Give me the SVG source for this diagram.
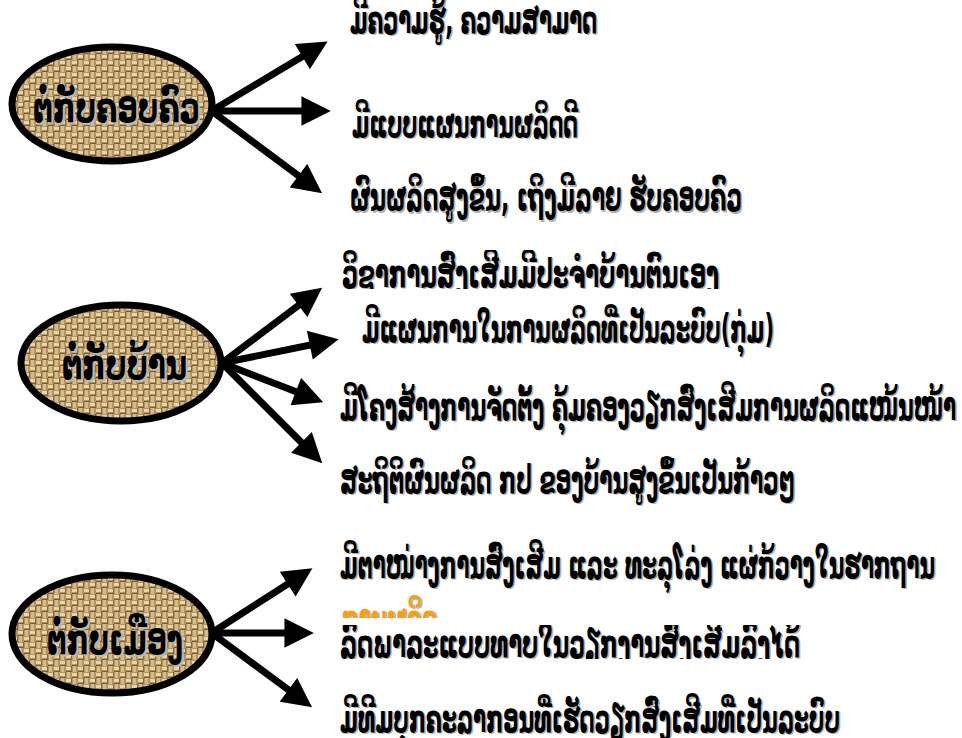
<svg xmlns="http://www.w3.org/2000/svg" width="962" height="738" viewBox="0 0 962 738">
<style>
.t{font-family:"DejaVu Sans",sans-serif;font-size:33px;font-weight:bold;fill:#000}
.sh{font-family:"DejaVu Sans",sans-serif;font-size:33px;font-weight:bold;fill:#b0b0b0}
.lbl{font-family:"DejaVu Sans",sans-serif;font-size:35px;font-weight:bold;fill:#000}
.lsh{font-family:"DejaVu Sans",sans-serif;font-size:35px;font-weight:bold;fill:#b8b8b8}
.node{fill:url(#burlap);stroke:#000;stroke-width:7}
.arr{stroke:#000;stroke-width:7;fill:none;marker-end:url(#ah)}
.or{font-family:"DejaVu Sans",sans-serif;font-size:33px;font-weight:bold;fill:#f5a01a}
</style>
<defs>
<pattern id="burlap" width="12" height="12" patternUnits="userSpaceOnUse">
<rect width="12" height="12" fill="#b39462"/>
<rect x="0" y="1" width="6" height="3" fill="#e8d6a8"/>
<rect x="6" y="7" width="6" height="3" fill="#e8d6a8"/>
<rect x="7" y="0" width="3" height="6" fill="#d3bb8a"/>
<rect x="1" y="6" width="3" height="6" fill="#d3bb8a"/>
<rect x="0" y="5" width="6" height="1" fill="#735a33"/>
<rect x="6" y="11" width="6" height="1" fill="#735a33"/>
<rect x="5" y="0" width="1" height="6" fill="#84683c"/>
<rect x="11" y="6" width="1" height="6" fill="#84683c"/>
</pattern>
<marker id="ah" viewBox="0 0 10 10" refX="7" refY="5" markerWidth="4.4" markerHeight="4.2" orient="auto" markerUnits="strokeWidth">
<path d="M0,0 L10,5 L0,10 z" fill="#000"/>
</marker>
<clipPath id="c1"><rect x="330" y="250" width="632" height="39"/></clipPath>
<clipPath id="c2"><rect x="330" y="590" width="632" height="28"/></clipPath>
<clipPath id="c3"><rect x="330" y="625" width="632" height="34"/></clipPath>
</defs>
<g id="connectors">
<line class="arr" x1="213" y1="110" x2="320" y2="46"/>
<line class="arr" x1="213" y1="111" x2="322" y2="111"/>
<line class="arr" x1="213" y1="112" x2="315" y2="188"/>
<line class="arr" x1="222" y1="363" x2="315" y2="293"/>
<line class="arr" x1="222" y1="363" x2="330" y2="341"/>
<line class="arr" x1="222" y1="363" x2="315" y2="399"/>
<line class="arr" x1="222" y1="363" x2="316" y2="457"/>
<line class="arr" x1="213" y1="632" x2="305" y2="573"/>
<line class="arr" x1="213" y1="633" x2="305" y2="633"/>
<line class="arr" x1="213" y1="634" x2="305" y2="702"/>
</g>
<g id="node-family">
<ellipse class="node" cx="112" cy="104" rx="100" ry="57"/>
<text class="lsh" x="35" y="124" transform="matrix(1,0,0,1.2,0,-24.8)" textLength="167" lengthAdjust="spacingAndGlyphs">ຕໍ່ກັບຄອບຄົວ</text>
<text class="lbl" x="33" y="122" transform="matrix(1,0,0,1.2,0,-24.4)" textLength="167" lengthAdjust="spacingAndGlyphs">ຕໍ່ກັບຄອບຄົວ</text>
</g>
<g id="node-village">
<ellipse class="node" cx="121" cy="363" rx="100" ry="58"/>
<text class="lsh" x="64" y="381" transform="matrix(1,0,0,1.2,0,-76.2)" textLength="125" lengthAdjust="spacingAndGlyphs">ຕໍ່ກັບບ້ານ</text>
<text class="lbl" x="62" y="379" transform="matrix(1,0,0,1.2,0,-75.8)" textLength="125" lengthAdjust="spacingAndGlyphs">ຕໍ່ກັບບ້ານ</text>
</g>
<g id="node-district">
<ellipse class="node" cx="112" cy="634" rx="100" ry="59"/>
<text class="lsh" x="49" y="656" transform="matrix(1,0,0,1.2,0,-131.2)" textLength="136" lengthAdjust="spacingAndGlyphs">ຕໍ່ກັບເມືອງ</text>
<text class="lbl" x="47" y="654" transform="matrix(1,0,0,1.2,0,-130.8)" textLength="136" lengthAdjust="spacingAndGlyphs">ຕໍ່ກັບເມືອງ</text>
</g>
<g id="items-family">
<text class="sh" x="351.5" y="34.5" transform="matrix(1,0,0,1.2,0,-6.9)" textLength="247" lengthAdjust="spacingAndGlyphs">ມີຄວາມຮູ້, ຄວາມສາມາດ</text>
<text class="t" x="350" y="33" transform="matrix(1,0,0,1.2,0,-6.6)" textLength="247" lengthAdjust="spacingAndGlyphs">ມີຄວາມຮູ້, ຄວາມສາມາດ</text>
<text class="sh" x="353.5" y="138.5" transform="matrix(1,0,0,1.2,0,-27.7)" textLength="226" lengthAdjust="spacingAndGlyphs">ມີແບບແຜນການຜລິດດີ</text>
<text class="t" x="352" y="137" transform="matrix(1,0,0,1.2,0,-27.4)" textLength="226" lengthAdjust="spacingAndGlyphs">ມີແບບແຜນການຜລິດດີ</text>
<text class="sh" x="351.5" y="211.5" transform="matrix(1,0,0,1.2,0,-42.3)" textLength="392" lengthAdjust="spacingAndGlyphs">ຜົນຜລິດສູງຂຶ້ນ, ເຖິງມີລາຍ ຮັບຄອບຄົວ</text>
<text class="t" x="350" y="210" transform="matrix(1,0,0,1.2,0,-42)" textLength="392" lengthAdjust="spacingAndGlyphs">ຜົນຜລິດສູງຂຶ້ນ, ເຖິງມີລາຍ ຮັບຄອບຄົວ</text>
</g>
<g id="items-village">
<g clip-path="url(#c1)">
<text class="sh" x="343.5" y="288.5" transform="matrix(1,0,0,1.2,0,-57.7)" textLength="377" lengthAdjust="spacingAndGlyphs">ວິຊາການສົ່ງເສີມມີປະຈຳບ້ານຕົນເອງ</text>
<text class="t" x="342" y="287" transform="matrix(1,0,0,1.2,0,-57.4)" textLength="377" lengthAdjust="spacingAndGlyphs">ວິຊາການສົ່ງເສີມມີປະຈຳບ້ານຕົນເອງ</text>
</g>
<text class="sh" x="363.5" y="343.5" transform="matrix(1,0,0,1.2,0,-68.7)" textLength="412" lengthAdjust="spacingAndGlyphs">ມີແຜນການໃນການຜລິດທີ່ເປັນລະບົບ(ກຸ່ມ)</text>
<text class="t" x="362" y="342" transform="matrix(1,0,0,1.2,0,-68.4)" textLength="412" lengthAdjust="spacingAndGlyphs">ມີແຜນການໃນການຜລິດທີ່ເປັນລະບົບ(ກຸ່ມ)</text>
<text class="sh" x="341.5" y="421.5" transform="matrix(1,0,0,1.2,0,-84.3)" textLength="616" lengthAdjust="spacingAndGlyphs">ມີໂຄງສ້າງການຈັດຕັ້ງ ຄຸ້ມຄອງວຽກສົ່ງເສີມການຜລິດແໜ້ນໜ້າ</text>
<text class="t" x="340" y="420" transform="matrix(1,0,0,1.2,0,-84)" textLength="616" lengthAdjust="spacingAndGlyphs">ມີໂຄງສ້າງການຈັດຕັ້ງ ຄຸ້ມຄອງວຽກສົ່ງເສີມການຜລິດແໜ້ນໜ້າ</text>
<text class="sh" x="341.5" y="494.5" transform="matrix(1,0,0,1.2,0,-98.9)" textLength="455" lengthAdjust="spacingAndGlyphs">ສະຖິຕິຜົນຜລິດ ກປ ຂອງບ້ານສູງຂຶ້ນເປັນກ້າວໆ</text>
<text class="t" x="340" y="493" transform="matrix(1,0,0,1.2,0,-98.6)" textLength="455" lengthAdjust="spacingAndGlyphs">ສະຖິຕິຜົນຜລິດ ກປ ຂອງບ້ານສູງຂຶ້ນເປັນກ້າວໆ</text>
</g>
<g id="items-district">
<text class="sh" x="341.5" y="579.5" transform="matrix(1,0,0,1.2,0,-115.9)" textLength="595" lengthAdjust="spacingAndGlyphs">ມີຕາໜ່າງການສົ່ງເສີມ ແລະ ທະລຸໂລ່ງ ແຜ່ກ້ວາງໃນຮາກຖານ</text>
<text class="t" x="340" y="578" transform="matrix(1,0,0,1.2,0,-115.6)" textLength="595" lengthAdjust="spacingAndGlyphs">ມີຕາໜ່າງການສົ່ງເສີມ ແລະ ທະລຸໂລ່ງ ແຜ່ກ້ວາງໃນຮາກຖານ</text>
<g clip-path="url(#c2)">
<text class="sh" x="343.5" y="633.5" transform="matrix(1,0,0,1.2,0,-126.7)" textLength="95" lengthAdjust="spacingAndGlyphs">ການຜລິດ</text>
<text class="or" x="342" y="632" transform="matrix(1,0,0,1.2,0,-126.4)" textLength="95" lengthAdjust="spacingAndGlyphs">ການຜລິດ</text>
</g>
<g clip-path="url(#c3)">
<text class="sh" x="341.5" y="658.5" transform="matrix(1,0,0,1.2,0,-131.7)" textLength="460" lengthAdjust="spacingAndGlyphs">ລົດພາລະແບບທາບໃນວຽກງານສົ່ງເສີມລົງໄດ້</text>
<text class="t" x="340" y="657" transform="matrix(1,0,0,1.2,0,-131.4)" textLength="460" lengthAdjust="spacingAndGlyphs">ລົດພາລະແບບທາບໃນວຽກງານສົ່ງເສີມລົງໄດ້</text>
</g>
<text class="sh" x="341.5" y="733.5" transform="matrix(1,0,0,1.2,0,-146.7)" textLength="500" lengthAdjust="spacingAndGlyphs">ມີທີມບຸກຄະລາກອນທີ່ເຮັດວຽກສົ່ງເສີມທີ່ເປັນລະບົບ</text>
<text class="t" x="340" y="732" transform="matrix(1,0,0,1.2,0,-146.4)" textLength="500" lengthAdjust="spacingAndGlyphs">ມີທີມບຸກຄະລາກອນທີ່ເຮັດວຽກສົ່ງເສີມທີ່ເປັນລະບົບ</text>
</g>
</svg>
